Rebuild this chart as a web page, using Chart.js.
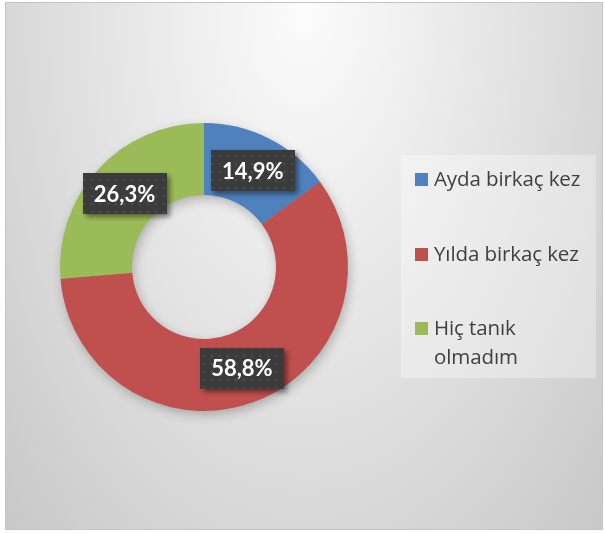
<!DOCTYPE html>
<html lang="tr">
<head>
<meta charset="utf-8">
<script src="https://cdn.jsdelivr.net/npm/chart.js@4"></script>
<style>
  html, body { margin: 0; padding: 0; background: #fff; }
  body { width: 605px; height: 533px; position: relative; overflow: hidden; }
  #frame {
    position: absolute; left: 5px; top: 2px; width: 598px; height: 528px;
    box-sizing: border-box; border: 1px solid #c4c4c4;
    background: radial-gradient(ellipse farthest-corner at 50% 0%, #fcfcfc 0%, #e4e4e4 48%, #c8c8c8 100%);
  }
  #chart { position: absolute; left: 0; top: 0; }
  #legend {
    position: absolute; left: 401px; top: 155px; width: 195px; height: 223px;
    background: rgba(255, 255, 255, 0.32);
    font-family: "Open Sans", Lato, sans-serif; font-size: 20.5px; color: #404040;
    box-sizing: border-box; padding: 9px 0 0 14px;
  }
  .item { display: flex; align-items: flex-start; line-height: 29px; height: 74.5px; }
  .swatch { width: 13px; height: 13px; margin: 9px 6px 0 0; flex: none; }
  .label { width: 160px; letter-spacing: -0.1px; }
</style>
</head>
<body>
<div id="frame"></div>
<canvas id="chart" width="605" height="533"></canvas>
<div id="legend"></div>
<script>
// Veriler
const kategoriler = ['Ayda birkaç kez', 'Yılda birkaç kez', 'Hiç tanık olmadım'];
const yuzdeler = [14.9, 58.8, 26.3];
const renkler = ['#4F81BD', '#C0504D', '#9BBB59'];

// Legend (sağdaki kutu)
const legend = document.getElementById('legend');
kategoriler.forEach((ad, i) => {
    const item = document.createElement('div');
    item.className = 'item';
    const sw = document.createElement('span');
    sw.className = 'swatch';
    sw.style.background = renkler[i];
    const lb = document.createElement('span');
    lb.className = 'label';
    lb.textContent = ad;
    item.appendChild(sw);
    item.appendChild(lb);
    legend.appendChild(item);
});

// Etiket kutuları için noktalı koyu desen
function koyuDesen(ctx) {
    const c = document.createElement('canvas');
    c.width = 8; c.height = 8;
    const p = c.getContext('2d');
    p.fillStyle = '#3b3b3b';
    p.fillRect(0, 0, 8, 8);
    p.fillStyle = 'rgba(255,255,255,0.07)';
    p.beginPath();
    p.arc(4, 4, 1.6, 0, Math.PI * 2);
    p.fill();
    return ctx.createPattern(c, 'repeat');
}

// Halkanın altına hafif gölge
const halkaGolge = {
    id: 'halkaGolge',
    beforeDatasetsDraw(chart) {
        const arc = chart.getDatasetMeta(0).data[0];
        if (!arc) return;
        const { x, y, outerRadius, innerRadius } = arc.getProps(['x', 'y', 'outerRadius', 'innerRadius'], true);
        const ctx = chart.ctx;
        ctx.save();
        ctx.shadowColor = 'rgba(0,0,0,0.28)';
        ctx.shadowBlur = 12;
        ctx.shadowOffsetX = 2;
        ctx.shadowOffsetY = 4;
        ctx.fillStyle = '#999';
        ctx.beginPath();
        ctx.arc(x, y, outerRadius - 1, 0, Math.PI * 2);
        ctx.arc(x, y, innerRadius + 1, 0, Math.PI * 2, true);
        ctx.fill();
        ctx.restore();
    }
};

// Yüzde etiketleri (dilim merkezinde koyu kutu)
const yuzdeEtiket = {
    id: 'yuzdeEtiket',
    afterDatasetsDraw(chart) {
        const ctx = chart.ctx;
        const desen = koyuDesen(ctx);
        chart.getDatasetMeta(0).data.forEach((arc, i) => {
            const pos = arc.tooltipPosition(true);
            const metin = yuzdeler[i].toFixed(1).replace('.', ',') + '%';
            const w = 84, h = 41;
            const bx = Math.round(pos.x - w / 2), by = Math.round(pos.y - h / 2);
            ctx.save();
            ctx.shadowColor = 'rgba(0,0,0,0.45)';
            ctx.shadowBlur = 5;
            ctx.shadowOffsetX = 3;
            ctx.shadowOffsetY = 3;
            ctx.fillStyle = '#3b3b3b';
            ctx.fillRect(bx, by, w, h);
            ctx.restore();
            ctx.save();
            ctx.fillStyle = desen;
            ctx.fillRect(bx, by, w, h);
            ctx.fillStyle = '#ffffff';
            ctx.font = 'bold 22px Lato, "Open Sans", sans-serif';
            ctx.textAlign = 'center';
            ctx.textBaseline = 'middle';
            ctx.fillText(metin, pos.x, pos.y + 1);
            ctx.restore();
        });
    }
};

const ctx = document.getElementById('chart').getContext('2d');
new Chart(ctx, {
    type: 'doughnut',
    data: {
        labels: kategoriler,
        datasets: [{
            data: yuzdeler,
            backgroundColor: renkler,
            borderWidth: 0,
        }],
    },
    options: {
        responsive: false,
        animation: false,
        cutout: '50%',
        layout: { padding: { left: 60, right: 257, top: 123, bottom: 122 } },
        plugins: {
            legend: { display: false },
            tooltip: { enabled: false },
        },
    },
    plugins: [halkaGolge, yuzdeEtiket],
});
</script>
</body>
</html>
